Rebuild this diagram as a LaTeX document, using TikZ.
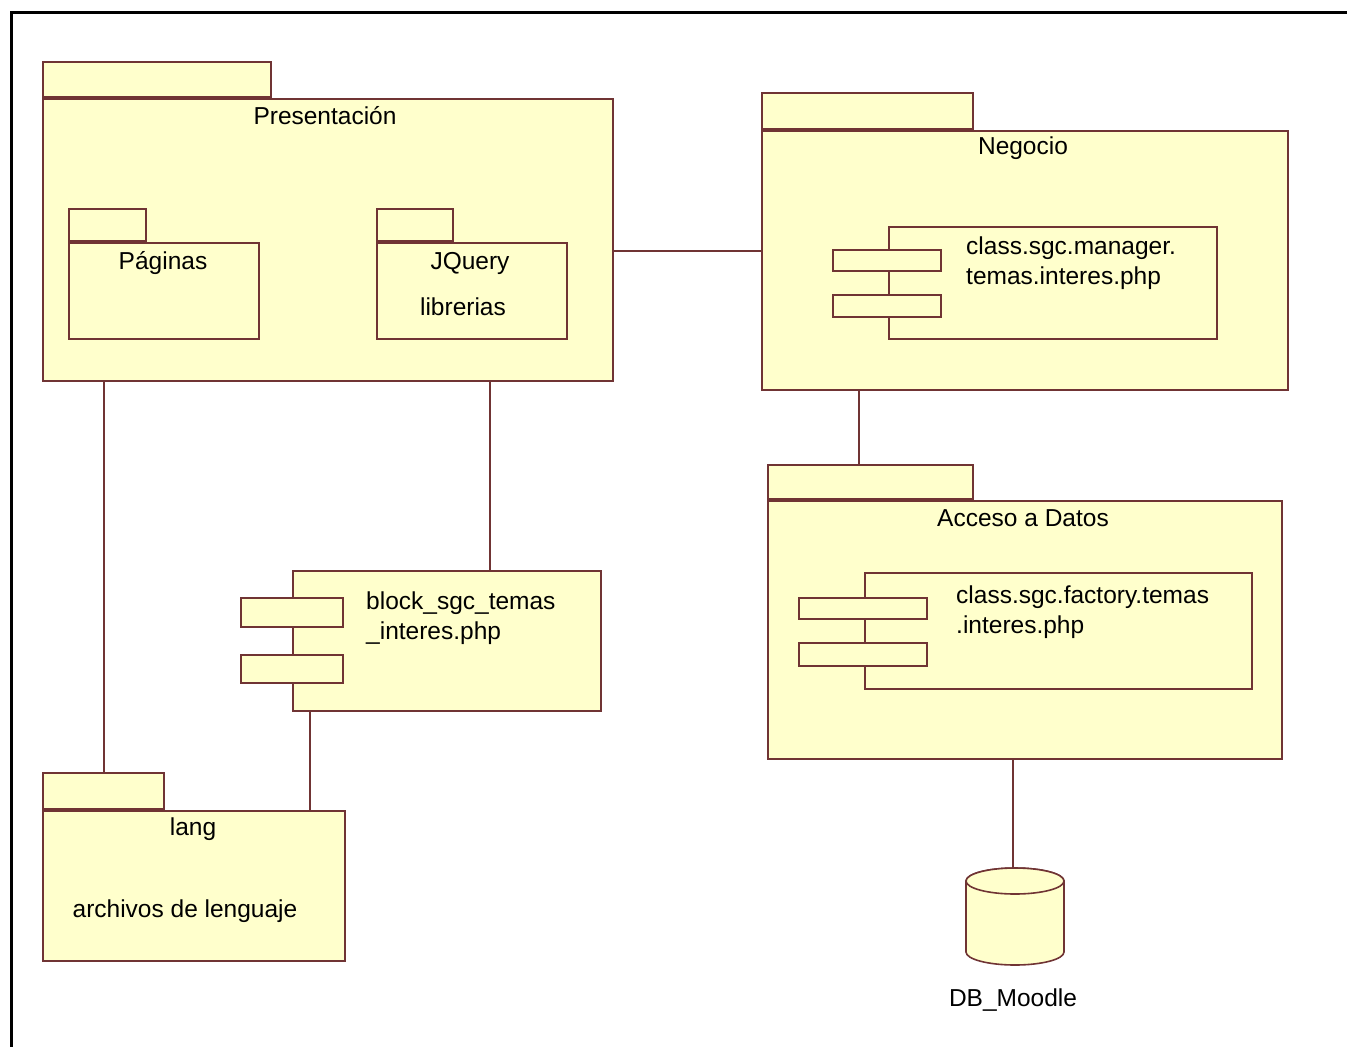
\documentclass[tikz,border=0pt]{standalone}
\usepackage{fontspec}
\setsansfont{Liberation Sans}
\definecolor{pkgfill}{RGB}{255,255,204}
\definecolor{pkgline}{RGB}{112,52,52}

\begin{document}
\begin{tikzpicture}[x=1pt,y=-1pt,
  pkg/.style={draw=pkgline,fill=pkgfill,line width=1.6pt,inner sep=0pt},
  lbl/.style={font=\sffamily\fontsize{24.5}{30}\selectfont,inner sep=0pt},
  conn/.style={draw=pkgline,line width=1.6pt}]
\useasboundingbox (0,0) rectangle (1347,1047);
\draw [black,line width=3pt] (11,1047) -- (11,12) -- (1347,12);
\node [pkg,anchor=north west,minimum width=570pt,minimum height=282pt] (pres) at (42,98) {};
\node [pkg,anchor=south west,minimum width=228pt,minimum height=35pt] (presTab) at (pres.north west) {};
\node [lbl] (presLbl) at (325,116) {Presentación};
\node [pkg,anchor=north west,minimum width=190pt,minimum height=96pt] (pag) at (68,242) {};
\node [pkg,anchor=south west,minimum width=77pt,minimum height=32pt] (pagTab) at (pag.north west) {};
\node [lbl] (pagLbl) at (163,263) {Páginas};
\node [pkg,anchor=north west,minimum width=190pt,minimum height=96pt] (jq) at (376,242) {};
\node [pkg,anchor=south west,minimum width=76pt,minimum height=32pt] (jqTab) at (jq.north west) {};
\node [lbl] (jqLbl) at (470,263) {JQuery};
\node [lbl] (libLbl) at (463,307) {librerias};
\node [pkg,anchor=north west,minimum width=526pt,minimum height=259pt] (neg) at (761,130) {};
\node [pkg,anchor=south west,minimum width=211pt,minimum height=36pt] (negTab) at (neg.north west) {};
\node [lbl] (negLbl) at (1023,148) {Negocio};
\node [pkg,anchor=north west,minimum width=328pt,minimum height=112pt] (mgr) at (888,226) {};
\node [pkg,anchor=north west,minimum width=108pt,minimum height=21pt] (mgrA) at (832,249) {};
\node [pkg,anchor=north west,minimum width=108pt,minimum height=22pt] (mgrB) at (832,294) {};
\node [lbl,anchor=west,align=left] (mgrLbl) at (966,263) {class.sgc.manager.\\temas.interes.php};
\node [pkg,anchor=north west,minimum width=514pt,minimum height=258pt] (acc) at (767,500) {};
\node [pkg,anchor=south west,minimum width=205pt,minimum height=34pt] (accTab) at (acc.north west) {};
\node [lbl] (accLbl) at (1023,518) {Acceso a Datos};
\node [pkg,anchor=north west,minimum width=387pt,minimum height=116pt] (fac) at (864,572) {};
\node [pkg,anchor=north west,minimum width=128pt,minimum height=21pt] (facA) at (798,597) {};
\node [pkg,anchor=north west,minimum width=128pt,minimum height=23pt] (facB) at (798,642) {};
\node [lbl,anchor=west,align=left] (facLbl) at (956,612) {class.sgc.factory.temas\\.interes.php};
\node [pkg,anchor=north west,minimum width=308pt,minimum height=140pt] (blk) at (292,570) {};
\node [pkg,anchor=north west,minimum width=102pt,minimum height=29pt] (blkA) at (240,597) {};
\node [pkg,anchor=north west,minimum width=102pt,minimum height=28pt] (blkB) at (240,654) {};
\node [lbl,anchor=west,align=left] (blkLbl) at (366,618) {block\_sgc\_temas\\\_interes.php};
\node [pkg,anchor=north west,minimum width=302pt,minimum height=150pt] (lang) at (42,810) {};
\node [pkg,anchor=south west,minimum width=121pt,minimum height=36pt] (langTab) at (lang.north west) {};
\node [lbl] (langLbl) at (193,829) {lang};
\node [lbl] (arcLbl) at (185,911) {archivos de lenguaje};
\node [inner sep=0pt,minimum width=98pt,minimum height=97pt] (db) at (1015,916.5) {};
\filldraw [pkg] (966,881) -- (966,952) arc [start angle=180,end angle=0,x radius=49,y radius=13]
  -- (1064,881) arc [start angle=0,end angle=-180,x radius=49,y radius=13] -- cycle;
\draw [pkg] (1015,881) ellipse [x radius=49,y radius=13];
\node [lbl] (dbLbl) at (1013,1000) {DB\_Moodle};
\draw [conn] (pres.east |- 0,251) -- (neg.west |- 0,251);
\draw [conn] (neg.south -| 859,0) -- (accTab.north -| 859,0);
\draw [conn] (acc.south -| 1013,0) -- (db.north -| 1013,0);
\draw [conn] (pres.south -| 104,0) -- (langTab.north -| 104,0);
\draw [conn] (pres.south -| 490,0) -- (blk.north -| 490,0);
\draw [conn] (blk.south -| 310,0) -- (lang.north -| 310,0);
\end{tikzpicture}
\end{document}
